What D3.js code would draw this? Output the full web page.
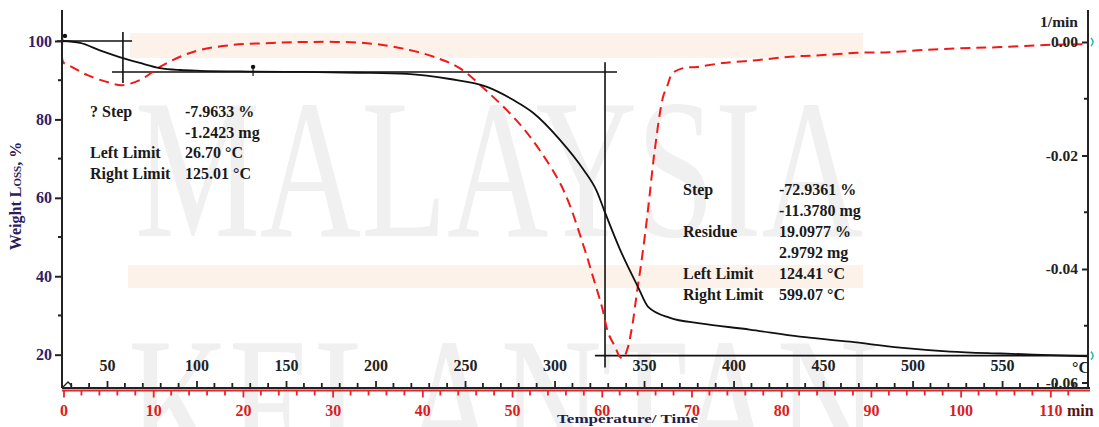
<!DOCTYPE html>
<html>
<head>
<meta charset="utf-8">
<script src="https://cdn.jsdelivr.net/npm/d3@7"></script>
<style>
    body { margin: 0; background: #fff; }
    text { font-family: "Liberation Serif", "Times New Roman", serif; font-weight: bold; }
</style>
</head>
<body>
<svg id="chart" width="1099" height="427"></svg>
<script>
// TGA curve: temperature (°C) vs weight (%)
const tgaTemp = [24.9, 35, 46, 57, 68.4, 79.6, 90.8, 102, 130, 160, 190, 217.6, 241.6, 262.3, 276.8, 288, 303, 316, 323.7, 328,
    336.6, 346.6, 352.3, 364.5, 381.3, 409, 437, 465, 493, 521, 549, 577, 598];
const tgaWeight = [100, 99.5, 97.6, 95.9, 94.4, 93.1, 92.6, 92.4, 92.2, 92.1, 91.9, 91.6, 90.3, 88.3, 85.0, 81.7, 74.8, 67.3, 61.6, 56.5,
    46.8, 37.3, 32.2, 29.4, 28.0, 26.4, 24.6, 23.3, 21.8, 20.8, 20.3, 19.9, 19.6];

// DTG curve: temperature (°C) vs rate (1/min)
const dtgTemp = [25.2, 24.8, 25.6, 29.3, 38.8, 51.7, 58.4, 68.4, 79.6, 90.8, 102, 120.4, 139.4, 157.8, 195, 219, 236, 247, 262, 279,
    292, 305, 317, 321.5, 326.5, 330, 333.8, 336.6, 338.3, 340.5, 343.3, 346, 348.9, 352.2, 356, 360.6, 362.8, 366, 371.8, 379.6,
    394, 413, 431.6, 450, 469, 487, 506, 527, 549, 577, 598];
const dtgRate = [0.0006, -0.0015, -0.0036, -0.0042, -0.0058, -0.0072, -0.0076, -0.0067, -0.0044, -0.0026, -0.0014, -0.0005, -0.0002, 0, -0.0002, -0.0014, -0.003, -0.0046, -0.0086, -0.0139,
    -0.0192, -0.0261, -0.0367, -0.0414, -0.0467, -0.0513, -0.0537, -0.0555, -0.0557, -0.0543, -0.0502, -0.0442, -0.0379, -0.0296, -0.019, -0.0097, -0.0079, -0.0055, -0.0046, -0.0044,
    -0.0037, -0.0032, -0.0026, -0.0023, -0.0019, -0.0018, -0.0014, -0.0011, -0.0009, -0.0005, -0.0004];

// axis ticks
const weightTicks = [20, 40, 60, 80, 100];
const weightMinor = [30, 50, 70, 90];
const rateTicks = [0, -0.02, -0.04, -0.06];
const rateMinor = [-0.01, -0.03, -0.05];
const tempTicks = [50, 100, 150, 200, 250, 300, 350, 400, 450, 500, 550];
const timeTicks = [0, 10, 20, 30, 40, 50, 60, 70, 80, 90, 100, 110];

// step evaluation construction lines [t1, w1, t2, w2]
const stepLines = [
    [22.1, 100, 64.0, 100],
    [58.9, 102.3, 58.9, 89.3],
    [52.8, 92.1, 334.9, 92.1],
    [328.2, 94.6, 328.2, 16.7],
    [322.6, 19.75, 598, 19.75]
];
const stepMarks = [[26.5, 101.3], [131.6, 93.4]];

// step result texts
const step1Labels = ['? Step', '', 'Left Limit', 'Right Limit'];
const step1Values = ['-7.9633 %', '-1.2423 mg', '26.70 °C', '125.01 °C'];
const step2Labels = ['Step', '', 'Residue', '', 'Left Limit', 'Right Limit'];
const step2Values = ['-72.9361 %', '-11.3780 mg', '19.0977 %', '2.9792 mg', '124.41 °C', '599.07 °C'];

const svg = d3.select('#chart');
const plotLeft = 62, plotRight = 1088, plotTop = 10, plotBottom = 388;

// scales
const x = d3.scaleLinear().domain([24.86, 598]).range([plotLeft, plotRight]);
const xTime = d3.scaleLinear().domain([0, 114.2]).range([63.5, plotRight]);
const y = d3.scaleLinear().domain([11.5, 107.9]).range([plotBottom, plotTop]);
const yRate = d3.scaleLinear().domain([-0.06097, 0.00564]).range([plotBottom, plotTop]);

// watermark behind the plot
const wm = svg.append('g');
wm.append('rect').attr('x', 130).attr('y', 33).attr('width', 733).attr('height', 25).attr('fill', '#fdf2ea');
wm.append('rect').attr('x', 128).attr('y', 265).attr('width', 735).attr('height', 23).attr('fill', '#fdf2ea');
wm.append('text').attr('x', 135).attr('y', 236).attr('font-size', 200).attr('textLength', 728)
    .attr('lengthAdjust', 'spacingAndGlyphs').attr('fill', '#f0f0f0').style('font-weight', 'normal').text('MALAYSIA');
wm.append('text').attr('x', 128).attr('y', 474).attr('font-size', 200).attr('textLength', 750)
    .attr('lengthAdjust', 'spacingAndGlyphs').attr('fill', '#f0f0f0').style('font-weight', 'normal').text('KELANTAN');

// construction lines
svg.append('g').selectAll('line')
    .data(stepLines)
    .join('line')
    .attr('x1', d => x(d[0])).attr('y1', d => y(d[1]))
    .attr('x2', d => x(d[2])).attr('y2', d => y(d[3]))
    .attr('stroke', '#111').attr('stroke-width', 1.6);

svg.append('g').selectAll('circle')
    .data(stepMarks)
    .join('circle')
    .attr('cx', d => x(d[0])).attr('cy', d => y(d[1]))
    .attr('r', 2.2).attr('fill', '#111');
svg.append('line')
    .attr('x1', x(stepMarks[1][0])).attr('x2', x(stepMarks[1][0]))
    .attr('y1', y(stepMarks[1][1])).attr('y2', y(91.1))
    .attr('stroke', '#111').attr('stroke-width', 1.2);

// DTG dashed curve
const dtgLine = d3.line()
    .x((d, i) => x(dtgTemp[i]))
    .y(d => yRate(d))
    .curve(d3.curveCatmullRom.alpha(0.5));
svg.append('path')
    .datum(dtgRate)
    .attr('d', dtgLine)
    .attr('fill', 'none')
    .attr('stroke', '#f01818')
    .attr('stroke-width', 2)
    .attr('stroke-dasharray', '10,6');

// TGA curve
const tgaLine = d3.line()
    .x((d, i) => x(tgaTemp[i]))
    .y(d => y(d))
    .curve(d3.curveMonotoneX);
svg.append('path')
    .datum(tgaWeight)
    .attr('d', tgaLine)
    .attr('fill', 'none')
    .attr('stroke', '#111')
    .attr('stroke-width', 1.8);

// left axis (weight)
const leftAxis = svg.append('g').attr('transform', `translate(${plotLeft},0)`);
leftAxis.append('line').attr('y1', plotTop).attr('y2', plotBottom).attr('stroke', '#222').attr('stroke-width', 2);
leftAxis.selectAll('.minor').data(weightMinor).join('line').attr('class', 'minor')
    .attr('x1', -4).attr('x2', 0).attr('y1', d => y(d)).attr('y2', d => y(d)).attr('stroke', '#222').attr('stroke-width', 2);
leftAxis.call(d3.axisLeft(y).tickValues(weightTicks).tickSize(7).tickPadding(3).tickFormat(d3.format('d')))
    .call(g => g.select('.domain').remove())
    .call(g => g.selectAll('.tick line').attr('stroke', '#222').attr('stroke-width', 2))
    .call(g => g.selectAll('.tick text').attr('fill', '#2e2266').attr('font-size', 16).attr('font-family', null));

// right axis (rate)
const rightAxis = svg.append('g').attr('transform', `translate(${plotRight},0)`);
rightAxis.append('line').attr('y1', plotTop).attr('y2', plotBottom).attr('stroke', '#222').attr('stroke-width', 2);
rightAxis.selectAll('.minor').data(rateMinor).join('line').attr('class', 'minor')
    .attr('x1', -4).attr('x2', 0).attr('y1', d => yRate(d)).attr('y2', d => yRate(d)).attr('stroke', '#222').attr('stroke-width', 2);
rightAxis.call(d3.axisLeft(yRate).tickValues(rateTicks).tickSize(6).tickPadding(4).tickFormat(d => d.toFixed(2)))
    .call(g => g.select('.domain').remove())
    .call(g => g.selectAll('.tick line').attr('stroke', '#222').attr('stroke-width', 2))
    .call(g => g.selectAll('.tick text').attr('fill', '#222').attr('font-size', 15.5).attr('font-family', null));

// bottom temperature axis (ticks upward)
const tempAxis = svg.append('g').attr('transform', `translate(0,${plotBottom})`);
tempAxis.append('line').attr('x1', plotLeft).attr('x2', plotRight + 2).attr('stroke', '#222').attr('stroke-width', 2);
tempAxis.selectAll('.minor').data(d3.range(30, 600, 10).filter(t => t % 50 !== 0)).join('line').attr('class', 'minor')
    .attr('x1', d => x(d)).attr('x2', d => x(d)).attr('y1', 0).attr('y2', -5).attr('stroke', '#222').attr('stroke-width', 1.8);
tempAxis.call(d3.axisTop(x).tickValues(tempTicks).tickSize(7).tickPadding(10).tickFormat(d3.format('d')))
    .call(g => g.select('.domain').remove())
    .call(g => g.selectAll('.tick line').attr('stroke', '#222').attr('stroke-width', 1.8))
    .call(g => g.selectAll('.tick text').attr('fill', '#222').attr('font-size', 16).attr('font-family', null));

// bottom time axis (red, ticks downward)
const timeAxis = svg.append('g').attr('transform', `translate(0,${plotBottom + 2.5})`);
timeAxis.append('line').attr('x1', plotLeft).attr('x2', plotRight + 2).attr('stroke', '#e8252a').attr('stroke-width', 2);
timeAxis.selectAll('.minor').data(d3.range(2, 114, 2).filter(t => t % 10 !== 0)).join('line').attr('class', 'minor')
    .attr('x1', d => xTime(d)).attr('x2', d => xTime(d)).attr('y1', 0).attr('y2', 5).attr('stroke', '#e8252a').attr('stroke-width', 1.8);
timeAxis.call(d3.axisBottom(xTime).tickValues(timeTicks).tickSize(7).tickPadding(7).tickFormat(d3.format('d')))
    .call(g => g.select('.domain').remove())
    .call(g => g.selectAll('.tick line').attr('stroke', '#e8252a').attr('stroke-width', 1.8))
    .call(g => g.selectAll('.tick text').attr('fill', '#d81e22').attr('font-size', 16).attr('font-family', null));

// small origin mark
svg.append('path').attr('d', `M${plotLeft + 1},${plotBottom - 1} L${plotLeft + 6},${plotBottom - 6} L${plotLeft + 10},${plotBottom - 2}`)
    .attr('fill', 'none').attr('stroke', '#222').attr('stroke-width', 1.4);

// cyan end markers at the right axis
svg.append('g').selectAll('path')
    .data([yRate(0), y(19.75)])
    .join('path')
    .attr('d', d => `M${plotRight + 3},${d - 4} Q${plotRight + 7},${d} ${plotRight + 3},${d + 4}`)
    .attr('fill', 'none').attr('stroke', '#2bb5b5').attr('stroke-width', 1.5);

// axis titles and units
svg.append('text')
    .attr('transform', 'translate(21,196) rotate(-90)')
    .attr('text-anchor', 'middle')
    .attr('font-size', 16)
    .attr('fill', '#2b1d5c')
    .html('Weight <tspan style="font-variant: small-caps">Loss</tspan>, %');
svg.append('text').attr('x', 1078).attr('y', 27).attr('text-anchor', 'end').attr('font-size', 15.5).attr('fill', '#222').text('1/min');
svg.append('text').attr('x', 1090).attr('y', 373).attr('text-anchor', 'end').attr('font-size', 16).attr('fill', '#222').text('°C');
svg.append('text').attr('x', 1067).attr('y', 416).attr('font-size', 16).attr('fill', '#5a1414').text('min');
svg.append('text').attr('x', 557).attr('y', 423).attr('font-size', 13.5)
    .attr('textLength', 141).attr('lengthAdjust', 'spacingAndGlyphs').attr('fill', '#1d1d4a').text('Temperature/ Time');

// step result blocks
function stepBlock(labels, values, x0, x1, y0, dy) {
    const g = svg.append('g').attr('font-size', 16).attr('fill', '#1a1a1a');
    g.selectAll('.lab').data(labels).join('text').attr('class', 'lab')
        .attr('x', x0).attr('y', (d, i) => y0 + i * dy).text(d => d);
    g.selectAll('.val').data(values).join('text').attr('class', 'val')
        .attr('x', x1).attr('y', (d, i) => y0 + i * dy).text(d => d);
}
stepBlock(step1Labels, step1Values, 90, 185, 117, 20.5);
stepBlock(step2Labels, step2Values, 683, 779, 195, 21);
</script>
</body>
</html>
